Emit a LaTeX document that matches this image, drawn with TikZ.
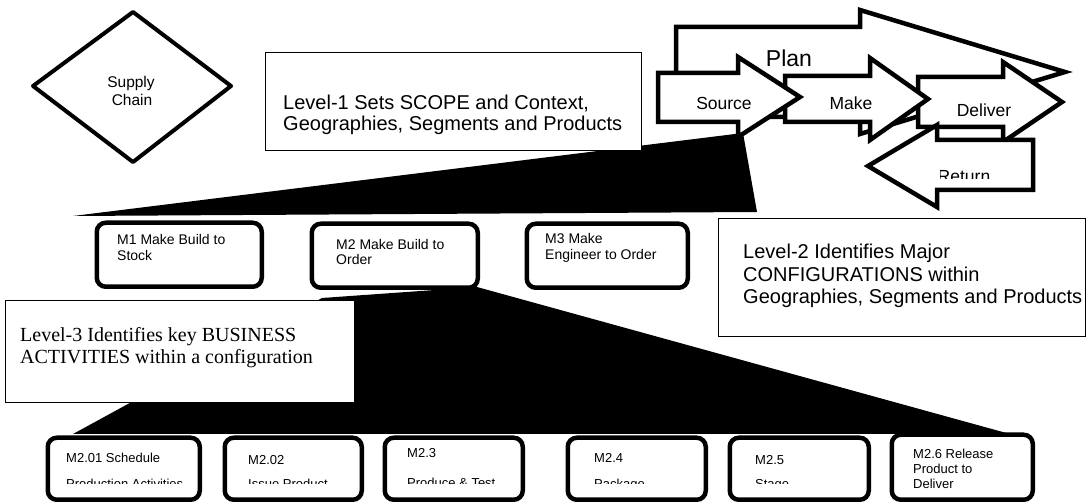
\documentclass[tikz,border=0pt]{standalone}
\usepackage{fontspec}
\setmainfont{Liberation Sans}
\newfontfamily\levelserif{Liberation Serif}
\begin{document}
\begin{tikzpicture}[x=1pt,y=-1pt,
  blockarrow/.style={draw=black,fill=white,line width=4.5pt,line join=miter,miter limit=4},
  chainshape/.style={draw=black,fill=white,line width=4pt,line join=round},
  notebox/.style={draw=black,fill=white,line width=1.2pt,inner sep=0pt,anchor=north west},
  stepbox/.style={draw=black,fill=white,line width=4.5pt,rounded corners=9pt,inner sep=0pt,anchor=north west},
  callout/.style={fill=black},
  txt/.style={inner sep=0pt,anchor=base west},
  ctxt/.style={inner sep=0pt,anchor=base},
  bigtxt/.style={font=\fontsize{20}{24}\selectfont},
  seriftxt/.style={font=\levelserif\fontsize{20}{24}\selectfont},
  arrowtxt/.style={font=\fontsize{17.5}{21}\selectfont},
  midtxt/.style={font=\fontsize{14}{16}\selectfont},
  smalltxt/.style={font=\fontsize{13}{15}\selectfont},
]
\fill[white] (0,0) rectangle (1088,502);
\useasboundingbox (0,0) rectangle (1088,502);

% ---- callout wedges (drawn first, partly covered by the boxes) ----
\fill[callout] (73,216) -- (743,133) -- (757,212) -- cycle;
\fill[callout] (322,298) -- (477,287) -- (1010,434) -- (73,434) -- cycle;

% ---- Supply Chain diamond ----
\coordinate (scW) at (33,86);
\coordinate (scN) at (133,12);
\coordinate (scE) at (231,86);
\coordinate (scS) at (133,162);
\draw[chainshape] (scW) -- (scN) -- (scE) -- (scS) -- cycle;
\node[ctxt,font=\fontsize{15.5}{17}\selectfont] (scA) at (131,88) {Supply};
\node[ctxt,font=\fontsize{15.5}{17}\selectfont] (scB) at (132,106) {Chain};

% ---- Level-1 note ----
\node[notebox,minimum width=376pt,minimum height=98pt] (lvl1) at (265,52) {};
\node[txt,bigtxt] (l1a) at (283,110) {Level-1 Sets SCOPE and Context,};
\node[txt,bigtxt] (l1b) at (283,131) {Geographies, Segments and Products};

% ---- Plan / Source / Make / Deliver / Return block arrows ----
\draw[blockarrow] (676,27) -- (860,27) -- (860,10) -- (1065,72) -- (860,134) -- (860,117) -- (676,117) -- cycle;
\node[ctxt,font=\fontsize{23}{27}\selectfont] (plan) at (789,67) {Plan};
\draw[blockarrow] (918,77) -- (1003,77) -- (1003,62) -- (1062,102) -- (1003,142) -- (1003,127) -- (918,127) -- cycle;
\node[ctxt,arrowtxt] (deliver) at (984,117) {Deliver};
\draw[blockarrow] (785,76) -- (870,76) -- (870,58) -- (928,99) -- (870,140) -- (870,122) -- (785,122) -- cycle;
\node[ctxt,arrowtxt] (make) at (851,110) {Make};
\draw[blockarrow] (658,73) -- (738,73) -- (738,57) -- (800,97) -- (738,137) -- (738,122) -- (658,122) -- cycle;
\node[ctxt,arrowtxt] (source) at (724,110) {Source};
\draw[blockarrow] (1033,140) -- (937,140) -- (937,125) -- (868,166) -- (937,207) -- (937,190) -- (1033,190) -- cycle;
\begin{scope}
  \clip (940,150) rectangle (1030,179);
  \node[ctxt,arrowtxt] (return) at (964,183) {Return};
\end{scope}

% ---- Level-2 configurations ----
\node[stepbox,minimum width=165pt,minimum height=64pt] (m1) at (94.5,220.5) {};
\node[txt,midtxt] (m1a) at (117,245) {M1 Make Build to};
\node[txt,midtxt] (m1b) at (117,261) {Stock};
\node[stepbox,minimum width=166pt,minimum height=64pt] (m2) at (309.5,221.5) {};
\node[txt,midtxt] (m2a) at (336,250) {M2 Make Build to};
\node[txt,midtxt] (m2b) at (336,265) {Order};
\node[stepbox,minimum width=161pt,minimum height=64pt] (m3) at (524.5,221.5) {};
\node[txt,midtxt] (m3a) at (545,244) {M3 Make};
\node[txt,midtxt] (m3b) at (545,260) {Engineer to Order};

\node[notebox,minimum width=367pt,minimum height=118pt] (lvl2) at (718,218) {};
\node[txt,bigtxt] (l2a) at (743,259) {Level-2 Identifies Major};
\node[txt,bigtxt] (l2b) at (743,282) {CONFIGURATIONS within};
\node[txt,bigtxt] (l2c) at (743,304) {Geographies, Segments and Products};

% ---- Level-3 note ----
\node[notebox,minimum width=349pt,minimum height=102pt] (lvl3) at (5,300) {};
\node[txt,seriftxt] (l3a) at (20,342) {Level-3 Identifies key BUSINESS};
\node[txt,seriftxt] (l3b) at (20,364) {ACTIVITIES within a configuration};

% ---- Level-3 business activities ----
\node[stepbox,minimum width=152pt,minimum height=62pt] (a1) at (45.5,435.5) {};
\node[stepbox,minimum width=137pt,minimum height=62pt] (a2) at (222.5,435.5) {};
\node[stepbox,minimum width=138pt,minimum height=62pt] (a3) at (382.5,435.5) {};
\node[stepbox,minimum width=138pt,minimum height=62pt] (a4) at (565.5,435.5) {};
\node[stepbox,minimum width=139pt,minimum height=62pt] (a5) at (727.5,435.5) {};
\node[stepbox,minimum width=141pt,minimum height=65pt] (a6) at (889.5,432.5) {};

\node[txt,smalltxt] (a1a) at (66,463) {M2.01 Schedule};
\node[txt,smalltxt] (a2a) at (248,465) {M2.02};
\node[txt,smalltxt] (a3a) at (407,458) {M2.3};
\node[txt,smalltxt] (a4a) at (594,463) {M2.4};
\node[txt,smalltxt] (a5a) at (755,465) {M2.5};
\begin{scope}
  \clip (40,470) rectangle (880,484);
  \node[txt,smalltxt] (a1b) at (66,489) {Production Activities};
  \node[txt,smalltxt] (a2b) at (248,489) {Issue Product};
  \node[txt,smalltxt] (a3b) at (407,488) {Produce \& Test};
  \node[txt,smalltxt] (a4b) at (594,489) {Package};
  \node[txt,smalltxt] (a5b) at (755,489) {Stage};
\end{scope}
\node[txt,smalltxt] (a6a) at (913,459) {M2.6 Release};
\node[txt,smalltxt] (a6b) at (913,474) {Product to};
\node[txt,smalltxt] (a6c) at (913,489) {Deliver};
\end{tikzpicture}
\end{document}
